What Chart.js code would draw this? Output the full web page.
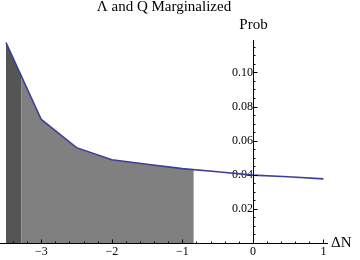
<!DOCTYPE html>
<html>
<head>
<meta charset="utf-8">
<script src="https://cdn.jsdelivr.net/npm/chart.js@4"></script>
<style>
  html, body { margin: 0; padding: 0; background: #ffffff; }
  canvas { display: block; }
</style>
</head>
<body>
<canvas id="probChart" width="360" height="260"></canvas>
<script>
// ΔN samples and the marginalized probability
const deltaN = [-3.5, -3, -2.5, -2, -1.5, -1, -0.5, 0, 0.5, 1];
const prob = [0.1175, 0.0724, 0.0559, 0.0488, 0.0462, 0.0436, 0.0418, 0.0398, 0.0388, 0.0376];

// tick labels
const xTicks = [-3, -2, -1, 0, 1];
const yTicks = [0.02, 0.04, 0.06, 0.08, 0.10];

// shaded bands under the curve, [from, to] in ΔN
const darkBand = [-3.5, -3.28];
const midBand = [-3.28, -0.84];

const serif = 'Liberation Serif, Times New Roman, serif';

// fills the area under the curve inside each band, then draws axes + ticks
const shadePlugin = {
    id: 'shade',
    beforeDatasetsDraw(chart) {
        const ctx = chart.ctx;
        const xs = chart.scales.x;
        const ys = chart.scales.y;
        const pts = chart.getDatasetMeta(0).data;
        const base = ys.getPixelForValue(0);
        const top = chart.chartArea.top - 10;

        [[darkBand, '#555555'], [midBand, '#808080']].forEach(([band, color]) => {
            const x0 = xs.getPixelForValue(band[0]);
            const x1 = xs.getPixelForValue(band[1]);
            ctx.save();
            ctx.beginPath();
            ctx.rect(x0, top, x1 - x0, base - top);
            ctx.clip();
            ctx.beginPath();
            ctx.moveTo(pts[0].x, base);
            pts.forEach(p => ctx.lineTo(p.x, p.y));
            ctx.lineTo(pts[pts.length - 1].x, base);
            ctx.closePath();
            ctx.fillStyle = color;
            ctx.fill();
            ctx.restore();
        });
    },
    afterDraw(chart) {
        const ctx = chart.ctx;
        const area = chart.chartArea;
        const xs = chart.scales.x;
        const ys = chart.scales.y;
        const ax = Math.round(xs.getPixelForValue(0)) + 0.5;
        const ay = Math.round(ys.getPixelForValue(0)) + 0.5;

        ctx.save();
        ctx.strokeStyle = '#000000';
        ctx.lineWidth = 1;
        ctx.beginPath();
        // axis lines
        ctx.moveTo(area.left, ay);
        ctx.lineTo(area.right, ay);
        ctx.moveTo(ax, area.top);
        ctx.lineTo(ax, ay);

        // x ticks: major every 1, minor every 0.2
        for (let i = -17; i <= 5; i++) {
            const v = i * 0.2;
            const px = Math.round(xs.getPixelForValue(v)) + 0.5;
            const len = (i % 5 === 0) ? 4 : 2;
            ctx.moveTo(px, ay);
            ctx.lineTo(px, ay - len);
        }
        // y ticks: major every 0.02, minor every 0.005
        for (let i = 1; i <= 23; i++) {
            const v = i * 0.005;
            const py = Math.round(ys.getPixelForValue(v)) + 0.5;
            const len = (i % 4 === 0) ? 4 : 2;
            ctx.moveTo(ax, py);
            ctx.lineTo(ax + len, py);
        }
        ctx.stroke();

        // axis titles
        ctx.fillStyle = '#000000';
        ctx.font = '15px ' + serif;
        ctx.textBaseline = 'middle';
        ctx.textAlign = 'center';
        ctx.fillText('Prob', ax, area.top - 15);
        ctx.textAlign = 'left';
        ctx.fillText('ΔN', area.right + 3, ay);
        ctx.restore();
    }
};

const tickFont = { family: serif, size: 12 };

new Chart(document.getElementById('probChart'), {
    type: 'line',
    data: {
        datasets: [{
            data: deltaN.map((x, i) => ({ x: x, y: prob[i] })),
            borderColor: '#3e3e9a',
            borderWidth: 1.6,
            pointRadius: 0,
            fill: false,
            tension: 0,
            clip: false
        }]
    },
    options: {
        responsive: false,
        animation: false,
        devicePixelRatio: 1,
        layout: {
            padding: { left: 0, right: 32, top: 0, bottom: 17 }
        },
        plugins: {
            legend: { display: false },
            tooltip: { enabled: false },
            title: {
                display: true,
                text: 'Λ and Q Marginalized',
                fullSize: false,
                color: '#000000',
                font: { family: serif, size: 15, weight: 'normal', lineHeight: 1 },
                padding: { top: 0, bottom: 25 }
            }
        },
        scales: {
            x: {
                type: 'linear',
                position: { y: 0 },
                min: -3.585,
                max: 1.065,
                grid: { display: false, drawTicks: false },
                border: { display: false },
                afterBuildTicks: s => { s.ticks = xTicks.map(v => ({ value: v })); },
                ticks: {
                    color: '#000000',
                    font: tickFont,
                    padding: 2,
                    maxRotation: 0,
                    autoSkip: false,
                    callback: v => String(v).replace('-', '\u2212')
                }
            },
            y: {
                type: 'linear',
                position: { x: 0 },
                min: 0,
                max: 0.119,
                grid: { display: false, drawTicks: false },
                border: { display: false },
                afterBuildTicks: s => { s.ticks = yTicks.map(v => ({ value: v })); },
                ticks: {
                    color: '#000000',
                    font: tickFont,
                    padding: 3,
                    autoSkip: false,
                    callback: v => v.toFixed(2)
                }
            }
        }
    },
    plugins: [shadePlugin]
});
</script>
</body>
</html>
